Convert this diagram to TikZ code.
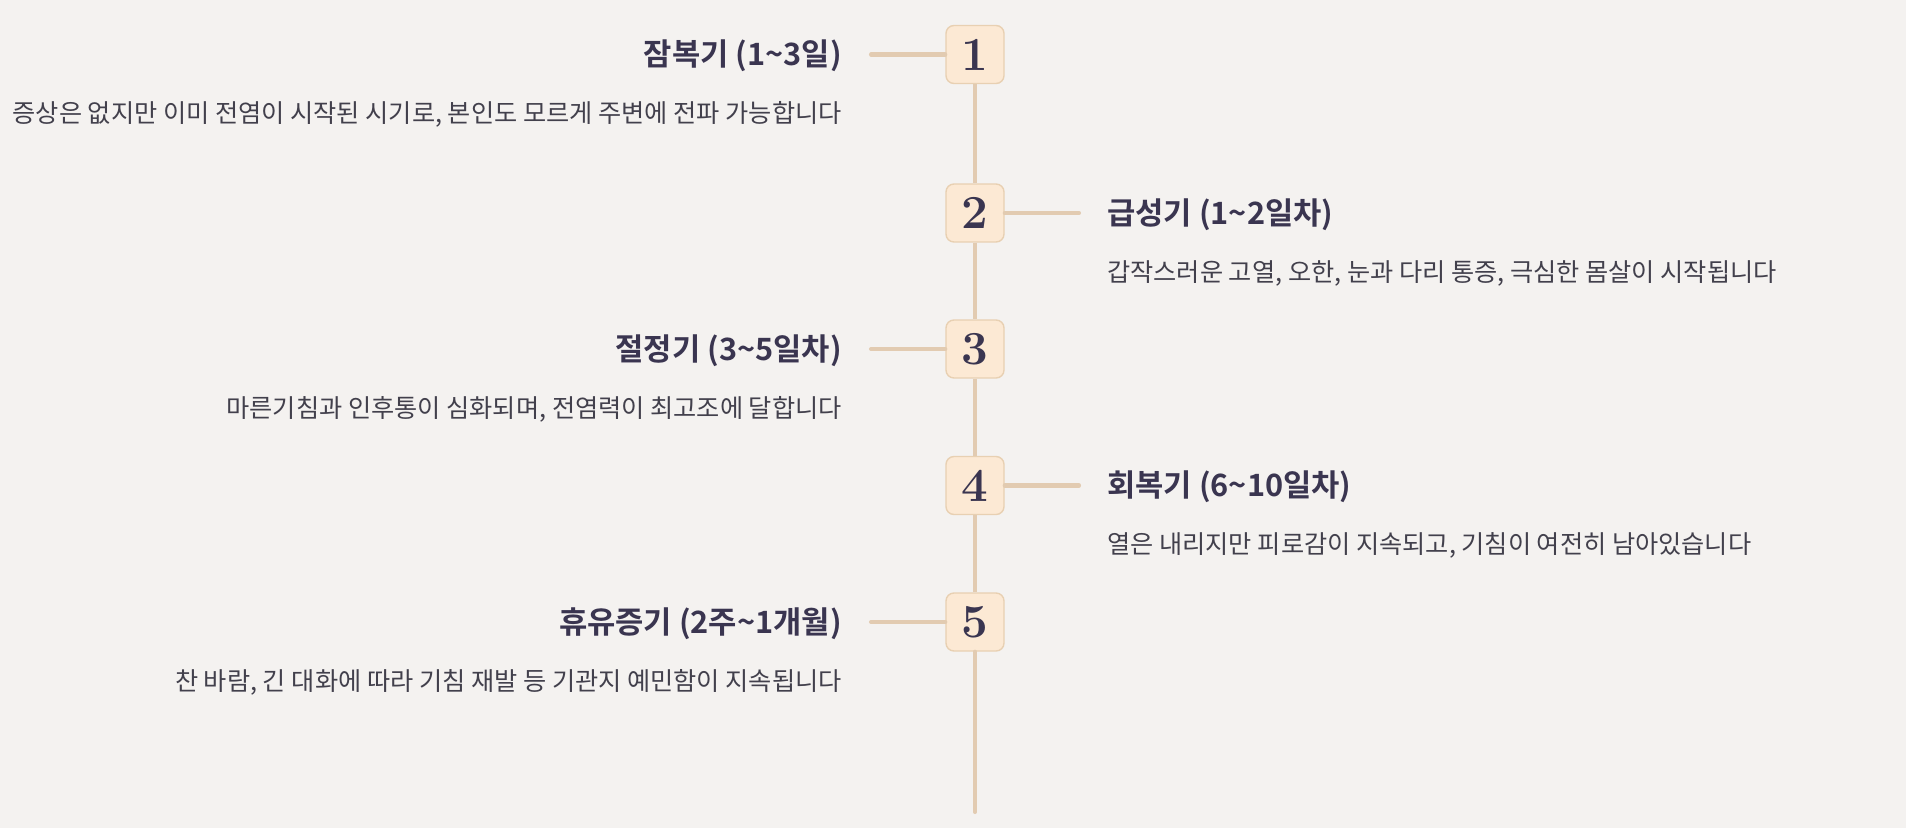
\documentclass[tikz,border=0pt]{standalone}
\usepackage{fontspec}
\newfontfamily\kr{Noto Sans CJK KR}[BoldFont={Noto Sans CJK KR Bold}]
\usepackage{xcolor}
\definecolor{paper}{HTML}{F4F2F0}
\definecolor{ink}{HTML}{3A3550}
\definecolor{grayink}{HTML}{42404C}
\definecolor{boxfill}{HTML}{FCE9D4}
\definecolor{boxedge}{HTML}{E8D0B2}
\definecolor{sand}{HTML}{E2CBB1}
\usepackage{tikz}

\begin{document}
\begin{tikzpicture}[x=0.02cm,y=-0.02cm,
  stepbox/.style={draw=boxedge, line width=0.8pt, fill=boxfill, rounded corners=4.5pt,
    minimum width=1.16cm, minimum height=1.16cm, inner sep=0pt,
    font=\fontsize{27}{27}\selectfont\bfseries, text=ink},
  spine/.style={sand, line width=2.3pt},
  arm/.style={sand, line width=2.3pt, line cap=round},
  title/.style={inner sep=0pt, font=\kr\fontsize{17.5}{19}\selectfont\bfseries, text=ink},
  desc/.style={inner sep=0pt, font=\kr\fontsize{14.35}{16}\selectfont, text=grayink}]
  % page
  \fill[paper] (0,0) rectangle (1906,828);
  % numbered boxes on the spine
  \foreach \n/\y in {1/54.5,2/213,3/349,4/485.5,5/622}
    \node[stepbox] (box\n) at (975,\y) {\n};
  \coordinate (tail) at (975,812);
  \foreach \a/\b in {1/2,2/3,3/4,4/5}
    \draw[spine] (box\a) -- (box\b);
  \draw[spine, line cap=round] (box5) -- (tail);
  % stages on the left
  \foreach \n/\y/\ttl/\dsc in {
      1/54.5/{잠복기 (1\textasciitilde3일)}/{증상은 없지만 이미 전염이 시작된 시기로, 본인도 모르게 주변에 전파 가능합니다},
      3/349/{절정기 (3\textasciitilde5일차)}/{마른기침과 인후통이 심화되며, 전염력이 최고조에 달합니다},
      5/622/{휴유증기 (2주\textasciitilde1개월)}/{찬 바람, 긴 대화에 따라 기침 재발 등 기관지 예민함이 지속됩니다}}{
    \coordinate (c\n) at (871,\y);
    \draw[arm] (c\n) -- (box\n);
    \node[title, anchor=east] (t\n) at (842,\y+1.5) {\ttl};
    \node[desc, anchor=east] (d\n) at (842,\y+60) {\dsc};
  }
  % stages on the right
  \foreach \n/\y/\ttl/\dsc in {
      2/213/{급성기 (1\textasciitilde2일차)}/{갑작스러운 고열, 오한, 눈과 다리 통증, 극심한 몸살이 시작됩니다},
      4/485.5/{회복기 (6\textasciitilde10일차)}/{열은 내리지만 피로감이 지속되고, 기침이 여전히 남아있습니다}}{
    \coordinate (c\n) at (1079,\y);
    \draw[arm] (box\n) -- (c\n);
    \node[title, anchor=west] (t\n) at (1107,\y+1.5) {\ttl};
    \node[desc, anchor=west] (d\n) at (1107,\y+60) {\dsc};
  }
\end{tikzpicture}
\end{document}
